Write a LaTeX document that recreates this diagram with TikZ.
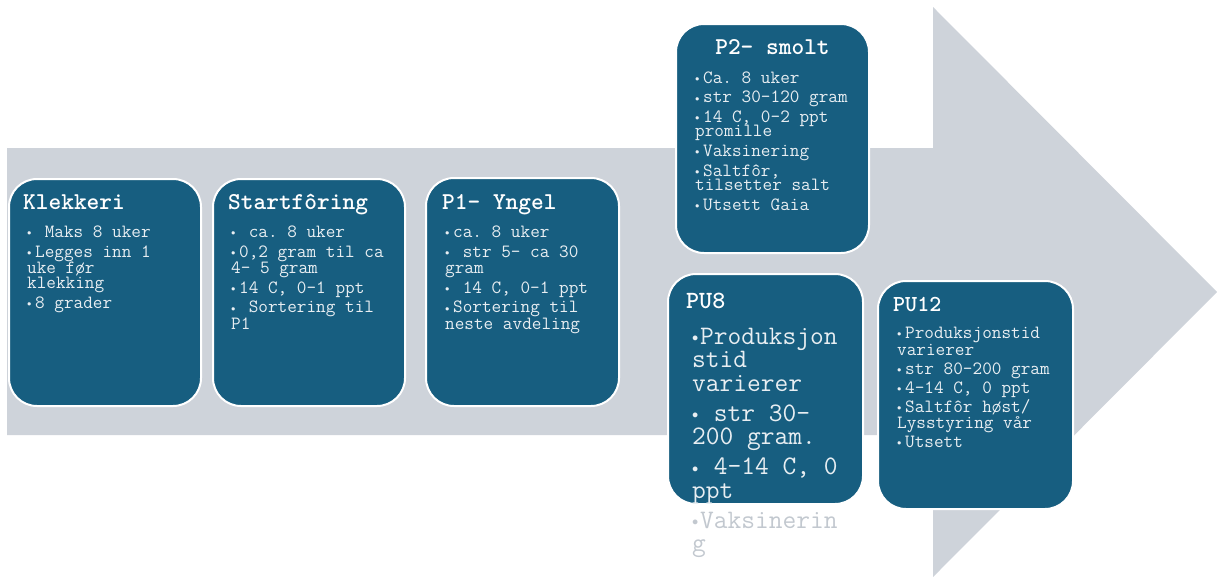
\documentclass[tikz,border=0pt]{standalone}
\usepackage{fontspec}
\usepackage{graphicx}

\definecolor{stageblue}{HTML}{175E80}
\definecolor{arrowgray}{HTML}{CED3DA}
\definecolor{stagetext}{HTML}{E8EEF2}
\definecolor{ghostgray}{HTML}{C2C8CF}

\newlength{\bulw}
\setlength{\bulw}{8pt}
\newcommand{\bul}{\raisebox{0.09em}{\scalebox{0.5}{$\bullet$}}}
\newcommand{\itm}[2][stagetext]{\leavevmode\hangindent=\bulw\hangafter=1\color{#1}\makebox[\bulw][l]{\bul}#2\par}
\newcommand{\bodyfont}[3]{\fontsize{#1}{#2}\selectfont\setlength{\parskip}{#3}\rightskip=0pt plus 1fil\relax
    \lineskiplimit=-50pt\relax\spaceskip=\fontcharwd\font`\a\relax\xspaceskip=\spaceskip}

\tikzstyle{stagebox} = [rectangle, rounded corners=28pt, minimum width=193pt, minimum height=228pt, anchor=north west, inner sep=0pt, draw=white, line width=2pt, fill=stageblue]
\tikzstyle{stagetitle} = [anchor=base west, inner sep=0pt, text=white, font=\ttfamily\bfseries\fontsize{24.2}{24}\selectfont]
\tikzstyle{stagebody} = [anchor=base west, inner sep=0pt, text=stagetext, font=\ttfamily, text width=190pt]

\begin{document}
\begin{tikzpicture}[x=1pt, y=-1pt]
    \useasboundingbox (0,0) rectangle (1217,576);
    % the big arrow behind the stages
    \fill [arrowgray] (7,148) -- (933,148) -- (933,7) -- (1217,292) -- (933,577) -- (933,435) -- (7,435) -- cycle;

    \node (Klekkeri) [stagebox, minimum width=192pt, minimum height=227pt] at (8,178) {};
    \node (Startforing) [stagebox, minimum width=192pt, minimum height=227pt] at (212,178) {};
    \node (P1) [stagebox] at (425,177) {};
    \node (P2) [stagebox, minimum height=229pt] at (675,23) {};
    \node (PU8) [stagebox, minimum width=195pt, minimum height=230pt] at (667,273) {};
    \node (PU12) [stagebox, minimum width=195pt] at (877,280) {};

    \node (Klekkeri Title) [stagetitle] at ([shift={(15pt,-31pt)}]Klekkeri.north west) {Klekkeri};
    \node (Klekkeri Body) [stagebody] at ([shift={(19pt,-59.5pt)}]Klekkeri.north west) {\bodyfont{18.7}{15.5}{4.5pt}%
        \itm{~Maks 8 uker}\itm{Legges inn 1\\uke før\\klekking}\itm{8 grader}};

    \node (Startforing Title) [stagetitle] at ([shift={(16pt,-31pt)}]Startforing.north west) {Startfôring};
    \node (Startforing Body) [stagebody] at ([shift={(19pt,-59.5pt)}]Startforing.north west) {\bodyfont{18.7}{16.2}{3.5pt}%
        \itm{~ca. 8 uker}\itm{0,2 gram til ca\\4- 5 gram}\itm{14 C, 0-1 ppt}\itm{~Sortering til\\P1}};

    \node (P1 Title) [stagetitle] at ([shift={(17pt,-32pt)}]P1.north west) {P1- Yngel};
    \node (P1 Body) [stagebody] at ([shift={(20pt,-60.5pt)}]P1.north west) {\bodyfont{18.7}{16.2}{3.5pt}%
        \itm{ca. 8 uker}\itm{~str 5- ca 30\\gram}\itm{~14 C, 0-1 ppt}\itm{Sortering til\\neste avdeling}};

    \node (P2 Title) [stagetitle, anchor=base] at ([shift={(0pt,-31pt)}]P2.north) {P2- smolt};
    \node (P2 Body) [stagebody] at ([shift={(20pt,-60pt)}]P2.north west) {\bodyfont{18.7}{14.5}{5.2pt}%
        \itm{Ca. 8 uker}\itm{str 30-120 gram}\itm{14 C, 0-2 ppt\\promille}\itm{Vaksinering}\itm{Saltfôr,\\tilsetter salt}\itm{Utsett Gaia}};

    \node (PU8 Title) [stagetitle, font=\ttfamily\bfseries\fontsize{24.8}{24}\selectfont] at ([shift={(19pt,-35pt)}]PU8.north west) {PU8};
    \node (PU8 Body) [stagebody] at ([shift={(25pt,-71pt)}]PU8.north west) {\bodyfont{26.7}{23.5}{6.5pt}%
        \itm{Produksjon\\stid\\varierer}\itm{~str 30-\\200 gram.}\itm{~4-14 C, 0\\ppt}\itm[ghostgray]{Vaksinerin\\g}};

    \node (PU12 Title) [stagetitle, font=\ttfamily\bfseries\fontsize{22.9}{22}\selectfont] at ([shift={(16pt,-31pt)}]PU12.north west) {PU12};
    \node (PU12 Body) [stagebody] at ([shift={(20pt,-58.5pt)}]PU12.north west) {\bodyfont{18.7}{16.5}{2.5pt}%
        \itm{Produksjonstid\\varierer}\itm{str 80-200 gram}\itm{4-14 C, 0 ppt}\itm{Saltfôr høst/\\Lysstyring vår}\itm{Utsett}};
\end{tikzpicture}
\end{document}
